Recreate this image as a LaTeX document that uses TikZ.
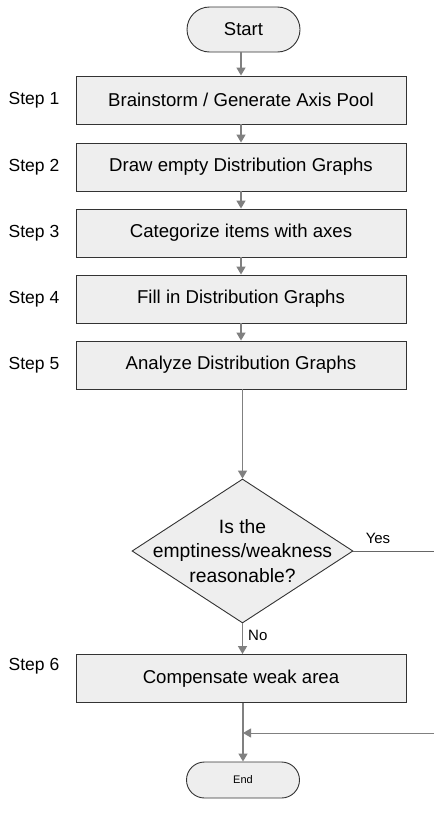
\documentclass[tikz,border=0pt]{standalone}
\usepackage{fontspec}
\setmainfont{Liberation Sans}
\usetikzlibrary{shapes.geometric,arrows.meta}
\definecolor{boxfill}{HTML}{EEEEEE}
\definecolor{arrowgray}{HTML}{808080}
\definecolor{edgedark}{HTML}{333333}
\tikzset{
  stepbox/.style={draw=edgedark, line width=0.9pt, fill=boxfill, minimum width=330pt, minimum height=48pt, inner sep=0pt, font=\fontsize{18.6}{22}\selectfont},
  terminal/.style={draw=edgedark, line width=0.9pt, fill=boxfill, minimum width=113pt, inner sep=0pt},
  decision/.style={diamond, draw=edgedark, line width=0.9pt, fill=boxfill, minimum width=221pt, minimum height=144pt, inner sep=0pt},
  steplabel/.style={font=\fontsize{17.5}{20}\selectfont, inner sep=0pt},
  flow/.style={draw=arrowgray, line width=1.4pt, -{Triangle[length=8pt,width=9pt]}},
  edgelabel/.style={font=\fontsize{15}{18}\selectfont, inner sep=0pt}
}
\begin{document}
\begin{tikzpicture}[x=1pt,y=1pt]
\useasboundingbox (0,0) rectangle (434,-814);
\fill[white] (0,0) rectangle (434,-814);

\node[terminal, minimum height=45pt, rounded corners=22.5pt, font=\fontsize{18.5}{21}\selectfont] (start) at (243.5,-29.5) {Start};
\node[stepbox] (s1) at (241,-100) {Brainstorm / Generate Axis Pool};
\node[stepbox] (s2) at (241,-167) {Draw empty Distribution Graphs};
\node[stepbox] (s3) at (241,-233) {Categorize items with axes};
\node[stepbox] (s4) at (241,-299) {Fill in Distribution Graphs};
\node[stepbox] (s5) at (241,-365) {Analyze Distribution Graphs};
\node[decision] (dec) at (242.5,-551) {};
\node[font=\fontsize{19.3}{24.5}\selectfont, align=center, inner sep=0pt] (dectext) at (242.5,-551) {Is the\\emptiness/weakness\\reasonable?};
\node[stepbox] (s6) at (241,-678.5) {Compensate weak area};
\node[terminal, minimum height=36pt, rounded corners=18pt, font=\fontsize{11}{13}\selectfont] (end) at (243,-780) {End};

\node[steplabel] (l1) at (34,-100) {Step 1};
\node[steplabel] (l2) at (34,-167) {Step 2};
\node[steplabel] (l3) at (34,-233) {Step 3};
\node[steplabel] (l4) at (34,-299) {Step 4};
\node[steplabel] (l5) at (34,-365) {Step 5};
\node[steplabel] (l6) at (34,-666) {Step 6};

\coordinate (yesend) at (434,-551);
\coordinate (backstart) at (434,-733);
\coordinate (join) at (243,-733);

\draw[flow] (start.south -| s1.north) -- (s1.north);
\draw[flow] (s1) -- (s2);
\draw[flow] (s2) -- (s3);
\draw[flow] (s3) -- (s4);
\draw[flow] (s4) -- (s5);
\draw[flow] (s5.south -| dec.north) -- (dec.north);
\draw[flow] (dec.south) -- (dec.south |- s6.north);
\draw[flow] (s6.south -| end.north) -- (end.north);
\draw[draw=arrowgray!80!black, line width=1pt] (dec.east) -- (yesend);
\draw[draw=arrowgray, line width=1pt, -{Triangle[length=8pt,width=9pt]}] (backstart) -- (join);

\node[edgelabel] (yes) at (378,-538) {Yes};
\node[edgelabel, anchor=west] (no) at (248,-635) {No};
\end{tikzpicture}
\end{document}
